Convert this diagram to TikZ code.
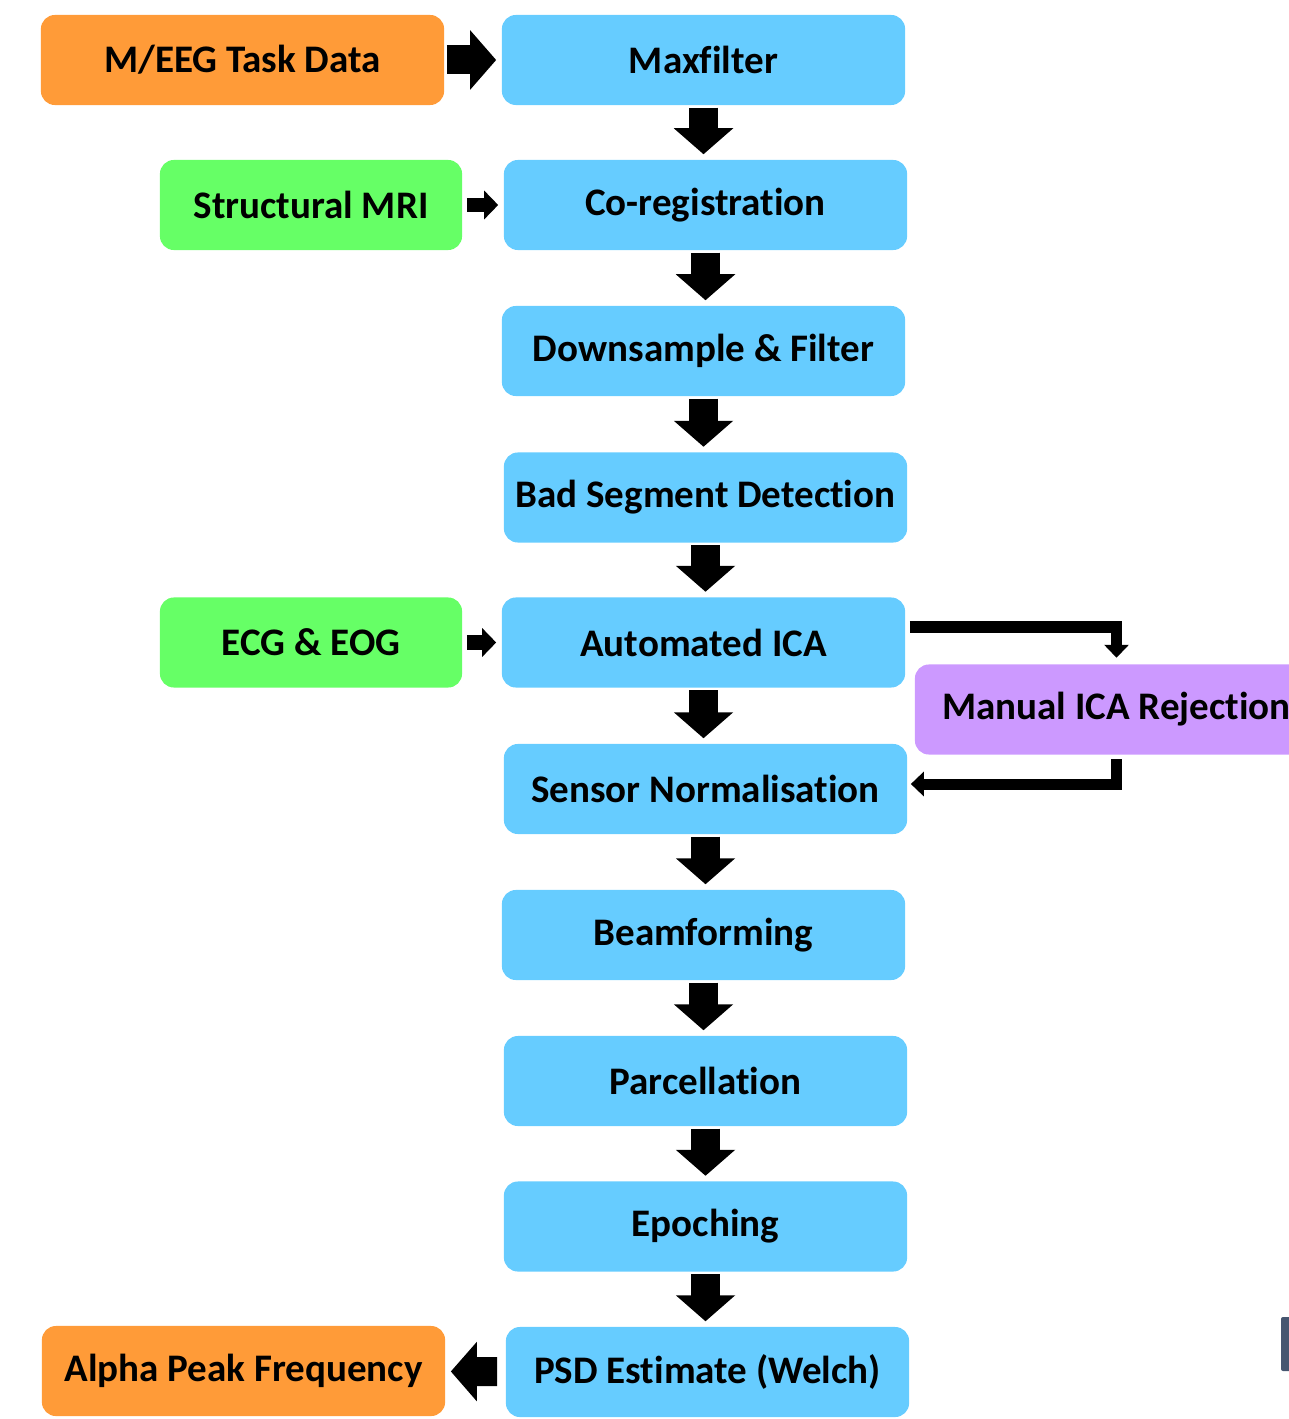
\documentclass[tikz,border=0pt]{standalone}
\usepackage{fontspec}
\setmainfont{Carlito}[Ligatures=NoCommon]
\usetikzlibrary{arrows.meta}

\definecolor{stageblue}{HTML}{66CCFF}
\definecolor{dataorange}{HTML}{FF9B38}
\definecolor{auxgreen}{HTML}{66FF66}
\definecolor{manualpurple}{HTML}{CC99FF}
\definecolor{edgeslate}{HTML}{465670}

\begin{document}
\begin{tikzpicture}[x=0.01cm, y=-0.01cm,
                    box/.style = {rounded corners=0.14cm, minimum width=4.03cm, minimum height=0.9cm, inner sep=0pt, font=\fontsize{11.1}{13}\selectfont\bfseries},
                    stage/.style = {box, fill=stageblue},
                    data/.style = {box, fill=dataorange},
                    aux/.style = {box, fill=auxgreen, minimum width=3.02cm},
                    manual/.style = {box, fill=manualpurple},
                    fat/.style = {line width=0.29cm, -{Triangle[width=0.58cm, length=0.26cm]}, shorten <=0.02cm, shorten >=0.05cm},
                    slim/.style = {line width=0.14cm, -{Triangle[width=0.28cm, length=0.14cm]}, shorten <=0.04cm, shorten >=0.05cm},
                    loopback/.style = {line width=0.11cm, -{Triangle[width=0.24cm, length=0.13cm]}}]
                        \useasboundingbox (0,0) rectangle (1289,1419);
                        \clip (0,0) rectangle (1289,1419);

                        \node[data] (task) at (242.5,60) {M/EEG Task Data};
                        \node[stage] (maxf) at (703.5,60) {Maxfilter};
                        \node[aux] (smri) at (311,205) {Structural MRI};
                        \node[stage] (coreg) at (705.5,205) {Co-registration};
                        \node[stage] (down) at (703.5,351) {Downsample \& Filter};
                        \node[stage] (bad) at (705.5,497.5) {Bad Segment Detection};
                        \node[aux] (ecg) at (311,642.5) {ECG \& EOG};
                        \node[stage] (aica) at (703.5,642.5) {Automated ICA};
                        \node[manual] (mica) at (1116.5,709.5) {Manual ICA Rejection};
                        \node[stage] (sens) at (705.5,789) {Sensor Normalisation};
                        \node[stage] (beam) at (703.5,935) {Beamforming};
                        \node[stage] (parc) at (705.5,1081) {Parcellation};
                        \node[stage] (epoch) at (705.5,1226.5) {Epoching};
                        \node[stage] (psd) at (707.5,1372) {PSD Estimate (Welch)};
                        \node[data] (apf) at (243.5,1371) {Alpha Peak Frequency};

                        \draw[fat] (task) -- (maxf);
                        \draw[slim] (smri) -- (coreg);
                        \draw[slim] (ecg) -- (aica);
                        \draw[fat, shorten <=0.08cm] (psd) -- (apf);

                        \draw[fat] (maxf.south) -- (maxf.south |- coreg.north);
                        \draw[fat] (coreg.south) -- (coreg.south |- down.north);
                        \draw[fat] (down.south) -- (down.south |- bad.north);
                        \draw[fat] (bad.south) -- (bad.south |- aica.north);
                        \draw[fat] (aica.south) -- (aica.south |- sens.north);
                        \draw[fat] (sens.south) -- (sens.south |- beam.north);
                        \draw[fat] (beam.south) -- (beam.south |- parc.north);
                        \draw[fat] (parc.south) -- (parc.south |- epoch.north);
                        \draw[fat] (epoch.south) -- (epoch.south |- psd.north);

                        \draw[loopback] ([shift={(4,-15.5)}]aica.east) -| ([shift={(0,-6)}]mica.north);
                        \draw[loopback] ([shift={(0,4)}]mica.south) |- ([shift={(3,-5)}]sens.east);

                        \fill[edgeslate, rounded corners=0.02cm] (1281,1317) rectangle (1300,1371);
                    \end{tikzpicture}
\end{document}
